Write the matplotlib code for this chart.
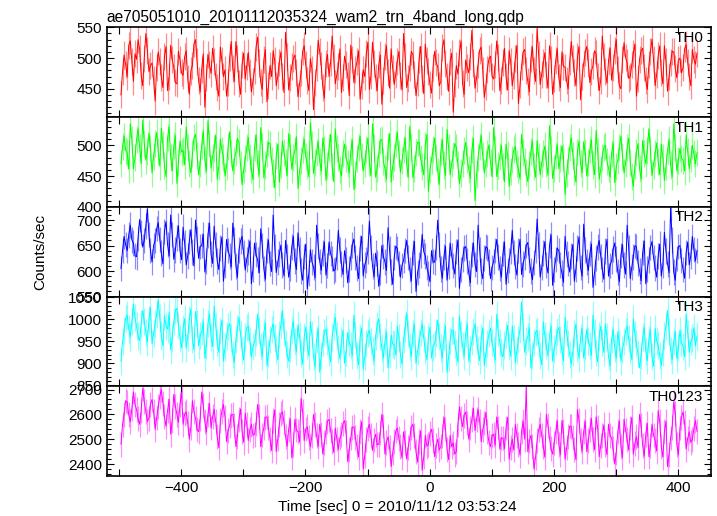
import matplotlib
matplotlib.use("Agg")
import matplotlib.pyplot as plt
from matplotlib.ticker import MultipleLocator
import numpy as np

plt.rcParams['font.family'] = ['Liberation Sans', 'DejaVu Sans']

title = "ae705051010_20101112035324_wam2_trn_4band_long.qdp"
xlabel = "Time [sec] 0 = 2010/11/12 03:53:24"
ylabel = "Counts/sec"

# time grid (sec), values every 2.5 s
t_start = -497
t_step = 2.5

th0 = [440, 478, 505, 490, 470, 521, 528, 495, 462, 507, 498, 530, 515, 472, 455, 500, 540, 512, 478, 488,
       492, 465, 430, 484, 510, 495, 468, 452, 503, 519, 447, 470, 521, 498, 485, 460, 458, 511, 497, 476,
       472, 502, 512, 466, 441, 479, 488, 523, 530, 494, 463, 445, 482, 507, 420, 468, 506, 489, 475, 516,
       495, 470, 452, 438, 518, 496, 470, 481, 438, 460, 501, 527, 483, 462, 527, 499, 459, 441, 490, 508,
       466, 487, 509, 476, 445, 462, 480, 518, 534, 492, 461, 449, 497, 514, 429, 455, 488, 470, 512, 496,
       455, 471, 493, 510, 470, 444, 542, 503, 448, 469, 486, 499, 505, 477, 437, 458, 476, 511, 520, 489,
       463, 447, 499, 482, 416, 460, 484, 529, 510, 488, 452, 435, 491, 506, 470, 493, 536, 501, 458, 472,
       487, 515, 444, 468, 503, 490, 472, 439, 521, 497, 460, 482, 494, 512, 433, 456, 481, 470, 507, 526,
       449, 472, 526, 491, 468, 447, 489, 505, 425, 463, 502, 520, 476, 451, 515, 483, 457, 474, 495, 511,
       471, 448, 540, 502, 452, 466, 484, 511, 506, 473, 439, 460, 498, 519, 467, 442, 523, 496, 478, 457,
       443, 485, 511, 493, 486, 455, 462, 517, 530, 491, 470, 446, 495, 508, 412, 459, 488, 474, 509, 528,
       458, 441, 497, 485, 476, 503, 545, 492, 451, 467, 490, 513, 518, 479, 436, 454, 482, 499, 503, 470,
       466, 489, 528, 501, 447, 463, 493, 516, 470, 448, 512, 494, 455, 472, 500, 521, 426, 457, 487, 510,
       514, 480, 462, 445, 499, 518, 480, 462, 548, 506, 457, 474, 492, 509, 473, 451, 520, 497, 441, 466,
       496, 515, 468, 452, 510, 487, 485, 463, 450, 494, 527, 500, 476, 455, 502, 519, 432, 470, 491, 509,
       519, 492, 460, 478, 488, 512, 507, 470, 447, 464, 536, 503, 478, 459, 495, 517, 464, 485, 512, 530,
       481, 455, 450, 498, 525, 501, 492, 467, 470, 489, 508, 523, 438, 466, 498, 512, 516, 484, 463, 449,
       489, 510, 531, 497, 455, 473, 504, 520, 477, 458, 520, 495, 446, 470, 493, 511, 510, 483, 468, 497,
       500, 476, 484, 515, 522, 493, 470, 455, 514, 498, 490, 508]

th1 = [470, 498, 515, 492, 488, 461, 535, 509, 462, 480, 509, 527, 497, 470, 541, 503, 476, 490, 520, 495,
       455, 482, 503, 521, 490, 466, 528, 501, 467, 449, 512, 530, 481, 459, 499, 516, 438, 472, 507, 489,
       492, 468, 530, 497, 470, 455, 486, 512, 518, 484, 452, 471, 500, 524, 477, 458, 540, 503, 463, 481,
       495, 517, 445, 466, 510, 492, 481, 450, 466, 498, 522, 487, 458, 476, 489, 511, 504, 468, 436, 460,
       478, 496, 513, 481, 460, 444, 496, 517, 470, 452, 529, 498, 447, 468, 487, 505, 502, 476, 455, 431,
       483, 502, 440, 469, 507, 488, 472, 451, 519, 497, 461, 480, 492, 514, 430, 458, 476, 493, 510, 482,
       468, 449, 537, 501, 454, 472, 489, 506, 474, 458, 512, 493, 443, 467, 496, 518, 465, 441, 527, 495,
       480, 461, 450, 487, 502, 479, 471, 455, 490, 509, 428, 452, 478, 496, 515, 482, 459, 471, 493, 512,
       472, 450, 535, 497, 448, 463, 486, 508, 510, 474, 462, 445, 498, 519, 440, 466, 481, 503, 521, 487,
       456, 475, 494, 512, 470, 448, 531, 496, 447, 463, 488, 505, 505, 478, 466, 452, 500, 518, 425, 461,
       476, 494, 512, 480, 458, 437, 490, 509, 468, 451, 526, 497, 452, 470, 484, 503, 497, 468, 438, 455,
       470, 491, 505, 477, 461, 446, 493, 511, 410, 452, 480, 498, 516, 483, 455, 470, 487, 501, 472, 449,
       529, 494, 449, 467, 482, 500, 466, 441, 502, 485, 433, 458, 477, 493, 498, 470, 460, 445, 518, 489,
       474, 456, 441, 469, 490, 507, 465, 448, 508, 482, 452, 471, 486, 499, 470, 451, 532, 494, 446, 463,
       483, 501, 462, 478, 499, 481, 420, 455, 475, 496, 512, 484, 458, 440, 489, 507, 470, 455, 506, 488,
       450, 472, 493, 509, 468, 452, 524, 490, 445, 461, 481, 497, 500, 474, 463, 448, 487, 504, 439, 466,
       476, 497, 515, 482, 455, 471, 496, 512, 472, 450, 433, 467, 489, 503, 462, 445, 508, 487, 470, 492,
       527, 493, 451, 468, 486, 504, 473, 452, 502, 481, 443, 465, 492, 509, 468, 449, 535, 497, 458, 476,
       495, 479, 476, 458, 517, 490, 462, 478, 500, 486, 470, 488]

th2 = [605, 640, 668, 652, 640, 671, 690, 661, 655, 630, 628, 664, 701, 676, 647, 660, 688, 722, 672, 640,
       618, 650, 660, 683, 695, 662, 635, 614, 678, 697, 652, 630, 710, 672, 623, 641, 665, 689, 640, 622,
       686, 655, 612, 630, 658, 681, 637, 610, 700, 663, 625, 648, 650, 672, 598, 620, 671, 694, 633, 615,
       688, 652, 620, 603, 645, 667, 580, 612, 662, 640, 630, 608, 694, 661, 610, 588, 641, 659, 668, 635,
       602, 623, 637, 659, 575, 604, 655, 632, 622, 597, 683, 650, 605, 584, 640, 661, 615, 599, 710, 648,
       597, 618, 633, 651, 612, 590, 660, 629, 588, 606, 647, 668, 620, 603, 675, 642, 600, 582, 629, 653,
       565, 596, 642, 618, 608, 587, 690, 649, 619, 601, 635, 657, 592, 611, 657, 634, 625, 600, 603, 628,
       680, 641, 614, 593, 640, 622, 577, 604, 628, 651, 663, 627, 606, 585, 645, 668, 590, 612, 622, 639,
       698, 646, 610, 589, 635, 616, 570, 598, 650, 629, 618, 601, 685, 643, 598, 574, 627, 649, 644, 615,
       588, 611, 621, 640, 660, 627, 603, 581, 636, 658, 560, 597, 612, 631, 672, 638, 630, 607, 595, 579,
       640, 619, 617, 646, 700, 652, 604, 586, 628, 649, 582, 609, 655, 630, 611, 594, 638, 661, 566, 603,
       624, 645, 648, 620, 596, 577, 632, 655, 613, 599, 690, 642, 600, 585, 626, 648, 645, 618, 585, 607,
       619, 640, 662, 628, 605, 588, 634, 657, 574, 601, 621, 639, 680, 636, 609, 592, 640, 662, 593, 614,
       628, 650, 656, 622, 600, 583, 617, 641, 702, 651, 588, 607, 635, 658, 612, 596, 650, 671, 572, 603,
       623, 645, 640, 612, 596, 578, 668, 633, 615, 598, 630, 652, 580, 604, 645, 667, 607, 590, 692, 641,
       618, 601, 634, 653, 568, 597, 626, 647, 660, 629, 603, 584, 639, 662, 590, 611, 620, 643, 655, 624,
       598, 579, 631, 652, 612, 594, 690, 645, 585, 608, 628, 650, 647, 616, 600, 581, 636, 659, 575, 604,
       622, 646, 658, 627, 606, 588, 630, 653, 590, 612, 676, 639, 614, 597, 724, 661, 598, 582, 625, 648,
       650, 621, 603, 586, 636, 657, 612, 630, 668, 642, 620, 640]

th3 = [905, 950, 975, 1002, 1010, 978, 960, 995, 1035, 1004, 985, 962, 952, 990, 1020, 996, 970, 948, 1000, 1027,
       945, 968, 990, 1012, 1045, 1003, 962, 940, 1008, 985, 978, 1016, 930, 958, 995, 1020, 1025, 987, 958, 935,
       980, 1002, 935, 960, 1000, 1024, 955, 931, 1018, 990, 940, 963, 972, 995, 912, 940, 990, 1013, 960, 938,
       1030, 985, 948, 925, 975, 998, 905, 937, 962, 984, 990, 958, 920, 902, 955, 980, 1005, 968, 930, 908,
       960, 982, 985, 951, 915, 938, 948, 970, 1012, 975, 938, 915, 970, 992, 895, 922, 955, 977, 990, 958,
       930, 908, 965, 988, 1020, 972, 945, 921, 905, 934, 975, 996, 950, 927, 988, 962, 922, 898, 960, 983,
       940, 917, 995, 966, 915, 892, 955, 979, 880, 918, 948, 970, 978, 951, 925, 903, 960, 984, 1005, 962,
       932, 910, 952, 975, 900, 926, 970, 947, 940, 918, 1010, 965, 918, 896, 958, 981, 886, 915, 945, 968,
       975, 949, 928, 905, 962, 986, 1002, 961, 935, 912, 950, 972, 890, 921, 965, 944, 942, 919, 985, 958,
       920, 898, 955, 979, 1015, 968, 938, 915, 968, 990, 900, 927, 948, 971, 990, 957, 930, 908, 960, 983,
       912, 937, 945, 969, 998, 961, 935, 912, 962, 985, 880, 914, 952, 976, 975, 944, 925, 903, 1008, 966,
       940, 917, 968, 990, 905, 931, 950, 972, 990, 953, 928, 906, 958, 981, 895, 923, 945, 968, 980, 947,
       930, 908, 1012, 970, 948, 925, 915, 942, 965, 987, 938, 916, 985, 956, 902, 929, 955, 978, 1040, 984,
       925, 951, 960, 982, 890, 918, 948, 971, 975, 944, 918, 897, 995, 962, 940, 917, 962, 985, 905, 933,
       950, 973, 982, 954, 928, 906, 1005, 968, 945, 921, 898, 926, 968, 990, 935, 912, 958, 980, 912, 939,
       978, 951, 940, 918, 1010, 969, 925, 903, 962, 985, 948, 925, 990, 960, 915, 894, 955, 977, 935, 911,
       972, 946, 905, 931, 950, 973, 985, 956, 930, 908, 1002, 965, 945, 922, 890, 918, 960, 982, 928, 906,
       955, 977, 915, 893, 980, 951, 940, 918, 895, 924, 962, 985, 1020, 972, 930, 908, 950, 973, 910, 936,
       975, 948, 938, 915, 1012, 968, 925, 949, 958, 981, 940, 962]

th0123 = [2480, 2560, 2600, 2655, 2650, 2598, 2570, 2622, 2690, 2641, 2620, 2583, 2560, 2615, 2705, 2652, 2610, 2571, 2585, 2640,
          2660, 2612, 2540, 2588, 2630, 2672, 2700, 2645, 2590, 2552, 2615, 2660, 2520, 2577, 2680, 2633, 2600, 2568, 2640, 2688,
          2560, 2602, 2610, 2565, 2500, 2548, 2655, 2611, 2585, 2540, 2530, 2582, 2690, 2636, 2570, 2528, 2600, 2643, 2545, 2590,
          2620, 2571, 2510, 2466, 2575, 2612, 2640, 2589, 2490, 2535, 2555, 2597, 2600, 2556, 2470, 2512, 2580, 2622, 2530, 2488,
          2605, 2560, 2495, 2538, 2560, 2515, 2520, 2563, 2640, 2592, 2470, 2517, 2545, 2588, 2590, 2546, 2500, 2455, 2575, 2618,
          2450, 2502, 2560, 2603, 2610, 2567, 2510, 2472, 2540, 2582, 2425, 2478, 2580, 2537, 2530, 2488, 2665, 2610, 2495, 2541,
          2550, 2506, 2470, 2514, 2600, 2558, 2515, 2471, 2560, 2518, 2440, 2487, 2530, 2572, 2580, 2536, 2490, 2447, 2545, 2501,
          2460, 2505, 2520, 2563, 2575, 2529, 2410, 2458, 2505, 2548, 2550, 2507, 2470, 2428, 2530, 2571, 2380, 2436, 2500, 2542,
          2560, 2515, 2455, 2497, 2520, 2478, 2480, 2526, 2600, 2553, 2440, 2488, 2510, 2467, 2390, 2445, 2490, 2533, 2545, 2502,
          2470, 2425, 2530, 2487, 2420, 2468, 2505, 2548, 2560, 2514, 2450, 2408, 2490, 2534, 2375, 2430, 2515, 2472, 2480, 2524,
          2540, 2495, 2430, 2474, 2500, 2457, 2470, 2513, 2590, 2541, 2460, 2418, 2515, 2470, 2485, 2440, 2450, 2560, 2630, 2585,
          2550, 2596, 2610, 2565, 2500, 2545, 2580, 2624, 2535, 2580, 2620, 2573, 2490, 2538, 2565, 2608, 2530, 2488, 2470, 2515,
          2520, 2476, 2590, 2545, 2460, 2505, 2505, 2462, 2545, 2588, 2420, 2468, 2500, 2457, 2560, 2515, 2480, 2436, 2530, 2572,
          2500, 2710, 2450, 2493, 2515, 2472, 2380, 2428, 2495, 2538, 2560, 2516, 2470, 2427, 2600, 2555, 2505, 2462, 2440, 2485,
          2530, 2574, 2480, 2437, 2575, 2530, 2420, 2466, 2510, 2553, 2550, 2507, 2460, 2418, 2620, 2576, 2495, 2452, 2530, 2572,
          2450, 2496, 2540, 2583, 2500, 2457, 2590, 2547, 2430, 2475, 2515, 2558, 2480, 2437, 2560, 2516, 2505, 2462, 2400, 2448,
          2530, 2573, 2470, 2427, 2580, 2537, 2500, 2456, 2545, 2588, 2440, 2483, 2510, 2466, 2600, 2557, 2475, 2432, 2520, 2563,
          2430, 2474, 2560, 2517, 2495, 2452, 2615, 2571, 2470, 2428, 2530, 2573, 2390, 2438, 2505, 2548, 2650, 2605, 2480, 2437,
          2545, 2588, 2610, 2566, 2460, 2503, 2530, 2487, 2500, 2543, 2575, 2532]

bands = ["TH0", "TH1", "TH2", "TH3", "TH0123"]
series = [th0, th1, th2, th3, th0123]
errs = [22, 22, 25, 31, 50]
colors = ["#ff0000", "#00ff00", "#0000ff", "#00ffff", "#ff00ff"]
ylims = [(404, 550), (400, 546), (550, 726), (848, 1052), (2352, 2713)]
ymajor = [50, 50, 50, 50, 100]
yminor = [10, 10, 10, 10, 20]

fig, axes = plt.subplots(5, 1, sharex=True, figsize=(7.17, 5.16), dpi=100)
fig.subplots_adjust(left=0.1488, right=0.9916, bottom=0.0775, top=0.947, hspace=0)

for i, ax in enumerate(axes):
    y = np.array(series[i])
    t = t_start + t_step * np.arange(len(y))
    ax.errorbar(t, y, yerr=errs[i], fmt='none', ecolor=colors[i], alpha=0.45, elinewidth=0.9)
    ax.plot(t, y, color=colors[i], lw=0.7)
    ax.set_ylim(*ylims[i])
    ax.set_xlim(-520, 453)
    ax.yaxis.set_major_locator(MultipleLocator(ymajor[i]))
    ax.yaxis.set_minor_locator(MultipleLocator(yminor[i]))
    ax.xaxis.set_major_locator(MultipleLocator(200))
    ax.xaxis.set_minor_locator(MultipleLocator(100))
    ax.tick_params(which='both', direction='in', top=True, right=True, labelsize=11, width=0.8)
    ax.tick_params(which='major', length=5)
    ax.tick_params(axis='y', which='minor', length=3)
    ax.tick_params(axis='x', which='minor', length=5)
    for s in ax.spines.values():
        s.set_linewidth(1.2)
    ax.text(0.987, 0.96, bands[i], transform=ax.transAxes, ha='right', va='top', fontsize=11)

axes[0].set_title(title, loc='left', fontsize=11.2, pad=4)
fig.text(0.056, 0.512, ylabel, rotation=90, ha='center', va='center', fontsize=11)
fig.text(0.5545, 0.018, xlabel, ha='center', va='center', fontsize=11)

plt.savefig("out.png", dpi=100)
